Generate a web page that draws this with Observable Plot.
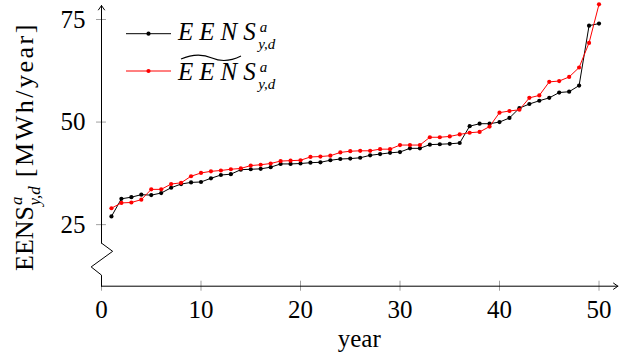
<!DOCTYPE html>
<html><head><meta charset="utf-8">
<script src="https://cdn.jsdelivr.net/npm/d3@7"></script>
<script src="https://cdn.jsdelivr.net/npm/@observablehq/plot@0.6"></script>
<style>
body{margin:0;background:#fff;}
svg{overflow:visible}
svg text{font-family:"Liberation Serif","Times New Roman",serif;}
</style></head><body><div id="chart"></div>
<script>
const years = d3.range(1, 51);
const eens = [27.0, 31.3, 31.7, 32.3, 32.2, 32.7, 34.0, 34.9, 35.3, 35.4,
  36.3, 37.1, 37.3, 38.4, 38.5, 38.6, 39.0, 39.8, 39.8, 39.9,
  40.1, 40.2, 40.7, 41.0, 41.1, 41.3, 41.9, 42.2, 42.5, 42.7,
  43.6, 43.6, 44.5, 44.6, 44.7, 44.9, 49.0, 49.6, 49.6, 50.0,
  51.0, 53.4, 54.4, 55.2, 55.9, 57.2, 57.4, 58.9, 73.5, 74.0];
const eensTilde = [29.0, 30.3, 30.4, 31.1, 33.6, 33.6, 34.9, 35.2, 36.8, 37.6,
  38.0, 38.2, 38.5, 38.7, 39.4, 39.6, 39.9, 40.5, 40.6, 40.7,
  41.5, 41.6, 41.8, 42.6, 42.9, 43.0, 43.0, 43.4, 43.4, 44.4,
  44.4, 44.4, 46.3, 46.3, 46.5, 47.0, 47.4, 47.6, 48.9, 52.3,
  52.7, 53.0, 55.9, 56.5, 59.8, 60.0, 61.0, 63.3, 69.3, 78.7];
const xTicks = [0, 10, 20, 30, 40, 50];
const yTicks = [25, 50, 75];
const xLabel = "year";

const black = years.map((yr, i) => ({year: yr, v: eens[i]}));
const red = years.map((yr, i) => ({year: yr, v: eensTilde[i]}));

const FONT = "'Liberation Serif', 'Times New Roman', serif";
const yMin = 10;
// y-axis break (data units)
const breakPts = [{x: 0, y: 20.5}, {x: 1.12, y: 18.5}, {x: -1.04, y: 14.7}, {x: 0, y: 12.7}, {x: 0, y: yMin}];

const plot = Plot.plot({
  width: 635, height: 359,
  marginLeft: 101, marginRight: 36.5, marginTop: 19, marginBottom: 73.3,
  x: {domain: [0, 50], axis: null},
  y: {domain: [yMin, 75], axis: null},
  style: {fontFamily: FONT, background: "white", overflow: "visible", color: "black"},
  marks: [
    Plot.ruleX(xTicks, {y1: yMin - 1.22, y2: yMin + 1.22, stroke: "#a0a0a0", strokeWidth: 1}),
    Plot.ruleY(yTicks, {x1: -0.5, x2: 0.5, stroke: "#a0a0a0", strokeWidth: 1}),
    Plot.arrow([{a: 0, b: yMin, c: 51.9, d: yMin}], {x1: "a", y1: "b", x2: "c", y2: "d", stroke: "black", strokeWidth: 1, headLength: 8, headAngle: 70}),
    Plot.arrow([{a: 0, b: 20.5, c: 0, d: 78.4}], {x1: "a", y1: "b", x2: "c", y2: "d", stroke: "black", strokeWidth: 1, headLength: 8, headAngle: 70}),
    Plot.line(breakPts, {x: "x", y: "y", stroke: "black", strokeWidth: 1, curve: "linear"}),
    Plot.text(xTicks, {x: d => d, y: yMin, dy: 24, text: d => String(d), fontSize: 25, fill: "black", lineAnchor: "middle"}),
    Plot.text(yTicks, {x: 0, y: d => d, dx: -16, text: d => String(d), fontSize: 25, fill: "black", textAnchor: "end", lineAnchor: "middle"}),
    Plot.text([xLabel], {x: 25.9, y: yMin, dy: 53, text: d => d, fontSize: 25, fill: "black", lineAnchor: "middle"}),
    Plot.line(black, {x: "year", y: "v", stroke: "black", strokeWidth: 1}),
    Plot.dot(black, {x: "year", y: "v", fill: "black", r: 2.1}),
    Plot.line(red, {x: "year", y: "v", stroke: "#ff0000", strokeWidth: 1}),
    Plot.dot(red, {x: "year", y: "v", fill: "#ff0000", r: 2.1})
  ]
});

const svg = d3.select(plot);

// y-axis label
const yl = svg.append("text")
  .attr("transform", "translate(33,271) rotate(-90)")
  .attr("text-anchor", "start")
  .attr("font-family", FONT).attr("font-size", 26).attr("fill", "black");
yl.append("tspan").text("EENS");
yl.append("tspan").attr("font-size", 17).attr("font-style", "italic").attr("dx", 1).attr("dy", -11).text("a");
yl.append("tspan").attr("font-size", 17).attr("font-style", "italic").attr("dx", -9).attr("dy", 18).text("y,d");
yl.append("tspan").attr("dy", -7).attr("letter-spacing", 2.5).text("\u00a0[MWh/year]");

// legend
function legendEntry(y, color, baseline, tilde) {
  const g = svg.append("g");
  g.append("line").attr("x1", 126).attr("x2", 171).attr("y1", y).attr("y2", y)
    .attr("stroke", color).attr("stroke-width", 1);
  g.append("circle").attr("cx", 148.5).attr("cy", y).attr("r", 2.1).attr("fill", color);
  const t = g.append("text").attr("x", 178).attr("y", baseline)
    .attr("text-anchor", "start")
    .attr("font-family", FONT).attr("font-size", 25).attr("font-style", "italic").attr("fill", "black");
  t.append("tspan").attr("letter-spacing", 6).text("EENS");
  t.append("tspan").attr("font-size", 15).attr("dx", -2).attr("dy", -8).text("a");
  t.append("tspan").attr("font-size", 15).attr("dx", -9).attr("dy", 17).text("y,d");
  if (tilde) {
    g.append("path").attr("d", `M181,${baseline-21} C195,${baseline-27} 205,${baseline-25} 212,${baseline-22} S229,${baseline-18} 241,${baseline-24}`)
      .attr("fill", "none").attr("stroke", "black").attr("stroke-width", 1.1);
  }
}
legendEntry(33.7, "black", 40, false);
legendEntry(71, "#ff0000", 80, true);

document.getElementById("chart").appendChild(plot);
</script></body></html>
